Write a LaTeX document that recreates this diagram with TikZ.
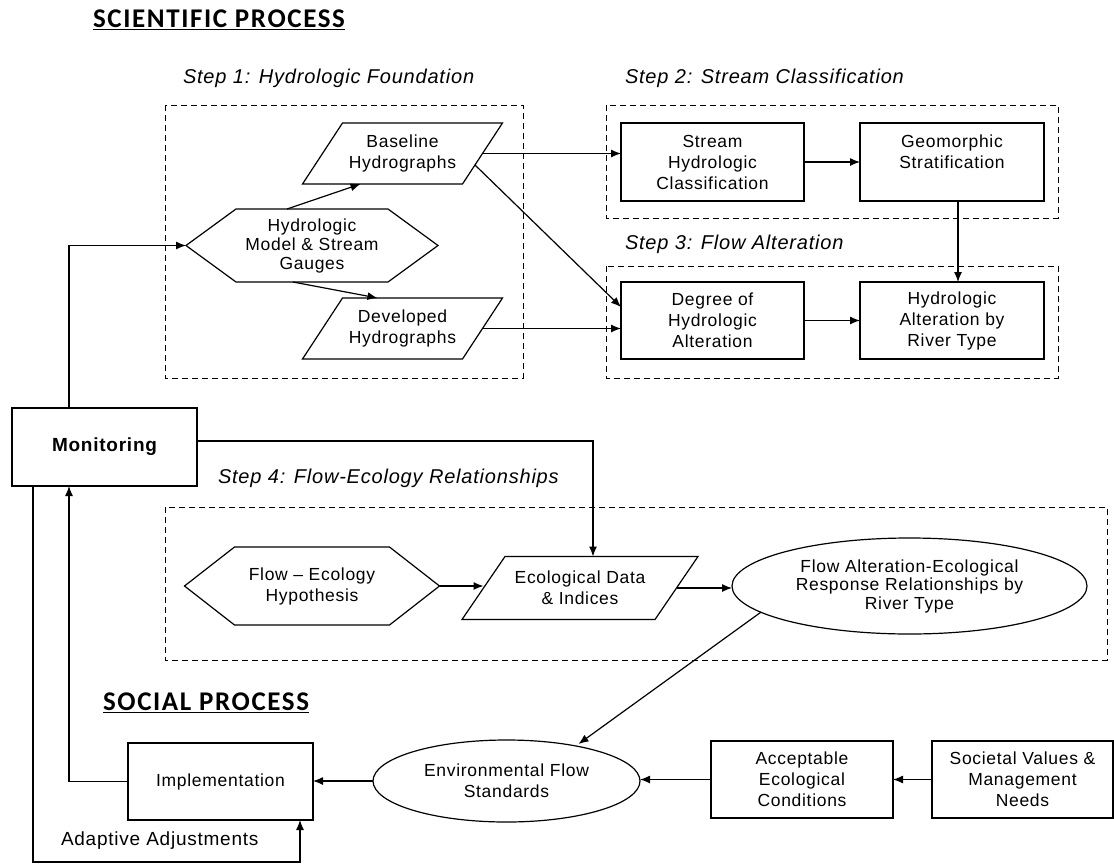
\documentclass[tikz,border=0pt]{standalone}
\usepackage{fontspec}
\setmainfont{Liberation Sans}[LetterSpace=4]
\newfontfamily\titlefont{Carlito}[LetterSpace=6]
\usetikzlibrary{arrows.meta,calc,shapes.geometric}
\newcommand\hexoutline[2]{\draw[outl] (#1.west) -- ($(#1.north west)+(#2,0)$) -- ($(#1.north east)+(-#2,0)$) -- (#1.east) -- ($(#1.south east)+(-#2,0)$) -- ($(#1.south west)+(#2,0)$) -- cycle;}
\newcommand\paraoutline[2]{\draw[outl] ($(#1.north west)+(#2,0)$) -- ($(#1.north east)+(#2,0)$) -- ($(#1.south east)+(-#2,0)$) -- ($(#1.south west)+(-#2,0)$) -- cycle;}
\begin{document}
\begin{tikzpicture}[x=1pt,y=-1pt,
  every node/.style={inner sep=0pt, outer sep=0pt, align=center, font=\fontsize{17.5}{21}\selectfont},
  outl/.style={line width=1.2pt},
  boxnode/.style={draw, line width=1.2pt, minimum width=#1, minimum height=77pt},
  ellnode/.style={draw, ellipse, line width=1.2pt},
  frame/.style={line width=1pt, dash pattern=on 6pt off 4pt},
  arr/.style={line width=1.2pt, -{Latex[length=10pt,width=8pt]}},
  steplabel/.style={anchor=west, font=\fontsize{20}{24}\selectfont\itshape},
  titlelabel/.style={anchor=west, font=\fontsize{27}{30}\selectfont\titlefont\bfseries}
]
\useasboundingbox (0,0) rectangle (1114,865);

% titles and step labels
\node[titlelabel] (t1) at (93,20) {\underline{SCIENTIFIC PROCESS}};
\node[titlelabel] (t2) at (103,703) {\underline{SOCIAL PROCESS}};
\node[steplabel] (s1) at (183,78) {Step 1: Hydrologic Foundation};
\node[steplabel] (s2) at (625,78) {Step 2: Stream Classification};
\node[steplabel] (s3) at (625,244) {Step 3: Flow Alteration};
\node[steplabel] (s4) at (218,478) {Step 4: Flow-Ecology Relationships};

% dashed frames
\draw[frame] (165,105) rectangle (523,378);
\draw[frame] (606,105) rectangle (1058,218);
\draw[frame] (606,266) rectangle (1058,378);
\draw[frame] (165,507) rectangle (1107,660);

% step 1
\node[minimum width=252pt, minimum height=73pt, font=\fontsize{17.5}{19}\selectfont] (hm) at (312,245.5) {Hydrologic\\Model \& Stream\\Gauges};
\hexoutline{hm}{50}
\node[minimum width=160pt, minimum height=61pt] (bh) at (402.5,153.5) {Baseline\\Hydrographs\vphantom{p}};
\paraoutline{bh}{20}
\node[minimum width=160pt, minimum height=61pt] (dh) at (402.5,328.5) {Developed\\Hydrographs};
\paraoutline{dh}{20}

% steps 2 and 3
\node[boxnode=183pt, minimum height=78pt] (shc) at (712.5,162) {Stream\\Hydrologic\\Classification};
\node[boxnode=184pt, minimum height=78pt] (gs) at (952,162) {Geomorphic\\Stratification\\~};
\node[boxnode=183pt] (doh) at (712.5,320.5) {Degree of\\Hydrologic\\Alteration};
\node[boxnode=184pt] (hat) at (952,320.5) {Hydrologic\\Alteration by\\River Type};

% monitoring
\node[boxnode=185pt, minimum height=78pt, font=\fontsize{19}{23}\selectfont\bfseries] (mon) at (104.5,447) {Monitoring};

% step 4
\node[minimum width=255pt, minimum height=78pt] (feh) at (312,586) {Flow – Ecology\\Hypothesis};
\hexoutline{feh}{50}
\node[minimum width=193pt, minimum height=63pt] (edi) at (580,588) {Ecological Data\\\& Indices};
\paraoutline{edi}{21.5}
\node[ellnode, minimum width=355pt, minimum height=96pt, font=\fontsize{17.5}{18.5}\selectfont] (fae) at (909.5,586) {Flow Alteration-Ecological\\Response Relationships by\\River Type};

% social process
\node[boxnode=185pt] (imp) at (220.5,781.5) {Implementation};
\node[ellnode, minimum width=267pt, minimum height=82pt] (efs) at (506.5,781) {Environmental Flow\\Standards};
\node[boxnode=182pt] (aec) at (802,779.5) {Acceptable\\Ecological\\Conditions};
\node[boxnode=181pt] (svm) at (1022.5,779.5) {Societal Values \&\\Management\\Needs};
\node[anchor=west, font=\fontsize{19}{21}\selectfont] (adj) at (61,841) {Adaptive Adjustments};

% connectors
\draw[arr] ([xshift=-35.5pt]mon.north) |- (hm.west);
\draw[arr] ([xshift=-25pt]hm.north) -- ([xshift=-42pt]bh.south);
\draw[arr] ([xshift=-19pt]hm.south) -- ([xshift=-25pt]dh.north);
\draw[arr] (bh.east) -- (bh.east -| shc.west);
\draw[arr] ($(bh.east)+(-7.5,11.5)$) -- ($(doh.west)+(0,-13.5)$);
\draw[arr] (dh.east) -- (dh.east -| doh.west);
\draw[arr] (shc.east) -- (gs.west);
\draw[arr] (doh.east) -- (hat.west);
\draw[arr] ([xshift=6pt]gs.south) -- ([xshift=6pt]hat.north);
\draw[arr] ([yshift=6pt]mon.east) -| ([xshift=13pt]edi.north);
\draw[arr] (feh.east) -- (feh.east -| edi.west);
\draw[arr] (edi.east) -- (edi.east -| fae.west);
\draw[arr] (fae.190) -- ($(efs.north)+(72,4)$);
\draw[arr] (svm.west) -- (aec.east);
\draw[arr] (aec.west) -- (aec.west -| efs.east);
\draw[arr] (efs.west) -- (efs.west -| imp.east);
\draw[arr] (imp.west) -| ([xshift=-35.5pt]mon.south);
\draw[arr] ([xshift=-71.5pt]mon.south) -- ++(0,376) -| ([xshift=79.5pt]imp.south);
\end{tikzpicture}
\end{document}
